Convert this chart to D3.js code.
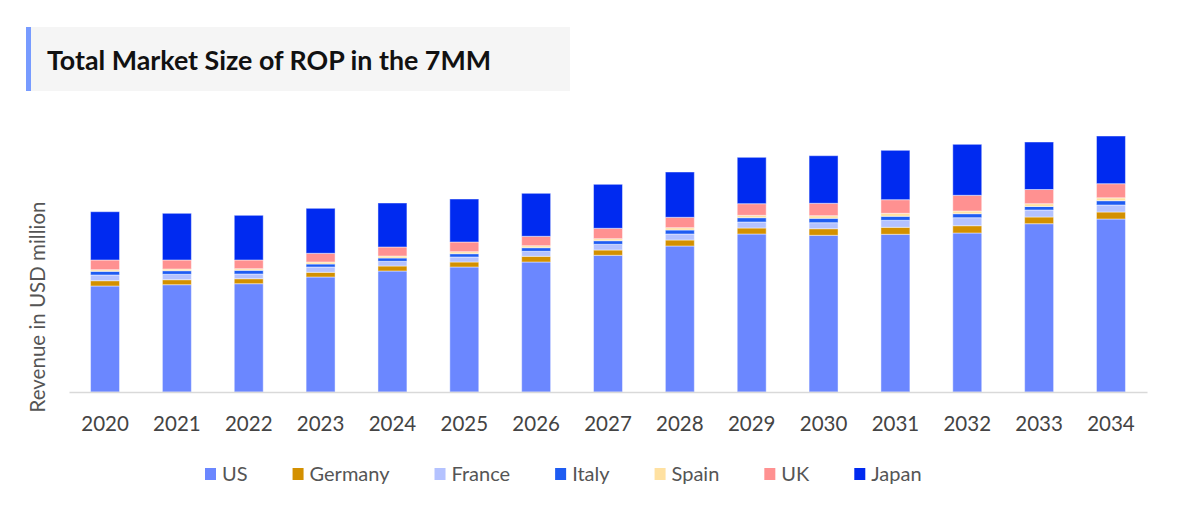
<!DOCTYPE html>
<html>
<head>
<meta charset="utf-8">
<script src="https://cdn.jsdelivr.net/npm/d3@7"></script>
<style>
  body { margin: 0; background: #fff; font-family: Lato, "Noto Sans", sans-serif; }
  svg { display: block; }
</style>
</head>
<body>
<svg id="chart" width="1200" height="528"></svg>
<script>
const years = ["2020", "2021", "2022", "2023", "2024", "2025", "2026", "2027", "2028", "2029", "2030", "2031", "2032", "2033", "2034"];
const countries = ["US", "Germany", "France", "Italy", "Spain", "UK", "Japan"];

// revenue per country (no y ticks in the source)
const us = [106, 107.3, 108.3, 115, 121, 125, 130, 136.7, 146, 158, 156.7, 157.7, 159, 168.3, 173];
const germany = [5.3, 5, 5, 4.7, 5, 5, 5.7, 5.3, 6, 6, 6.6, 7, 7.3, 6.7, 7];
const france = [5.7, 5.4, 4.7, 5.3, 4.7, 5, 5, 5.7, 6, 6, 6, 7, 8, 7, 7];
const italy = [3.7, 3.6, 3.7, 3, 3.3, 3.3, 3.6, 3.6, 4, 4.3, 4.4, 4, 4, 3.5, 4.3];
const spain = [1.6, 1.7, 1.6, 2, 2, 2, 2, 2, 2.3, 2.4, 2.6, 3, 2.7, 2.8, 2.9];
const uk = [9.7, 9, 8.7, 8.7, 9, 9.7, 9.4, 10.4, 10.4, 11.6, 12.4, 13.6, 15.7, 14.2, 14.1];
const japan = [48.3, 46.7, 44.7, 45, 44, 43, 43, 44, 45.3, 46.4, 47.6, 49.4, 51, 47.5, 47.7];

const colors = ["#6b87ff", "#d39000", "#b4c2ff", "#1e5cf2", "#ffe1a1", "#ff9191", "#002af0"];

const series = [us, germany, france, italy, spain, uk, japan];
const table = years.map((y, i) => {
  const row = { year: y };
  countries.forEach((c, k) => { row[c] = series[k][i]; });
  return row;
});

const svg = d3.select("#chart");
const margin = { top: 112, left: 69, right: 53, bottom: 136 };
const width = 1200, height = 528;

// title box
svg.append("rect").attr("x", 26).attr("y", 27).attr("width", 544).attr("height", 64).attr("fill", "#f5f5f5");
svg.append("rect").attr("x", 26).attr("y", 27).attr("width", 5).attr("height", 64).attr("fill", "#779bff");
svg.append("text")
  .attr("x", 47).attr("y", 70)
  .attr("font-size", 26.8).attr("font-weight", 700)
  .attr("fill", "#111")
  .text("Total Market Size of ROP in the 7MM");

const x = d3.scaleBand()
  .domain(years)
  .range([margin.left, width - margin.right])
  .paddingInner(0.597)
  .paddingOuter(0.3);

const y = d3.scaleLinear()
  .domain([0, 280])
  .range([height - margin.bottom, margin.top]);

const stack = d3.stack().keys(countries)(table);

svg.append("g")
  .selectAll("g")
  .data(stack)
  .join("g")
  .attr("fill", (d, i) => colors[i])
  .selectAll("rect")
  .data((d) => d)
  .join("rect")
  .attr("x", (d) => x(d.data.year))
  .attr("width", x.bandwidth())
  .attr("y", (d) => y(d[1]))
  .attr("height", (d) => y(d[0]) - y(d[1]))
  .attr("stroke", "rgba(255,255,255,0.45)")
  .attr("stroke-width", 1);

const xAxis = svg.append("g")
  .attr("transform", `translate(0,${height - margin.bottom})`)
  .call(d3.axisBottom(x).tickSize(0).tickPadding(24));
xAxis.select(".domain").attr("stroke", "#d9d9d9").attr("stroke-width", 1.5);
xAxis.selectAll("text")
  .attr("font-family", "Lato, sans-serif")
  .attr("font-size", 20.5)
  .attr("fill", "#444");

svg.append("text")
  .attr("transform", "translate(45,307) rotate(-90)")
  .attr("text-anchor", "middle")
  .attr("font-size", 20.5)
  .attr("fill", "#555")
  .text("Revenue in USD million");

// legend
const legend = svg.append("g").attr("transform", "translate(205,474)");
let lx = 0;
countries.forEach((c, i) => {
  const item = legend.append("g").attr("transform", `translate(${lx},0)`);
  item.append("rect").attr("x", 0).attr("y", -6).attr("width", 11).attr("height", 12).attr("fill", colors[i]);
  const t = item.append("text")
    .attr("x", 17).attr("y", 0).attr("dy", "0.35em")
    .attr("font-size", 20).attr("fill", "#555")
    .text(c);
  lx += 17 + t.node().getComputedTextLength() + 45;
});
</script>
</body>
</html>
